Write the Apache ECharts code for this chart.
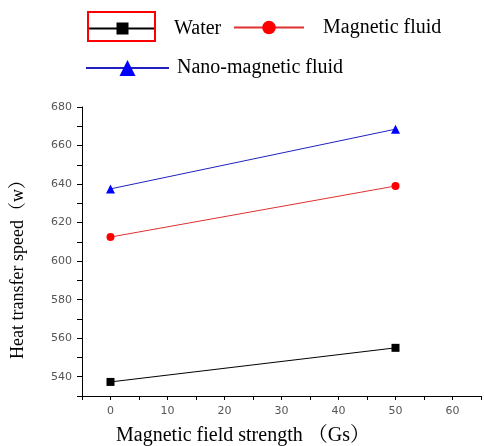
<!DOCTYPE html>
<html><head><meta charset="utf-8">
<script src="https://cdn.jsdelivr.net/npm/echarts@6/dist/echarts.min.js"></script>
<style>html,body{margin:0;padding:0;background:#fff}#c{width:484px;height:446px}</style>
</head><body><div id="c"></div>
<script>
const xValues = [0, 50];
const water = [537.3, 555.0];
const magneticFluid = [612.5, 639.0];
const nanoMagneticFluid = [637.5, 668.5];
const seriesNames = ['Water', 'Magnetic fluid', 'Nano-magnetic fluid'];
const xTitle = 'Magnetic field strength （Gs）';
const yTitle = 'Heat transfer speed（w）';

const serif = '"Liberation Serif","Times New Roman","Noto Serif CJK SC","Noto Sans CJK SC",serif';
const chart = echarts.init(document.getElementById('c'));
const pairs = arr => xValues.map((x, i) => [x, arr[i]]);
const legendText = {fontFamily: serif, fontSize: 20, color: '#000'};

chart.setOption({
  animation: false,
  grid: {left: 82, right: 1, top: 107, bottom: 50},
  legend: [
    {data: [seriesNames[0]], left: 88, top: 18.5, padding: 0, itemWidth: 67, itemHeight: 15,
     lineStyle: {width: 2}, textStyle: Object.assign({padding: [0, 0, 0, 13]}, legendText), selectedMode: false},
    {data: [seriesNames[1]], left: 233, top: 17.5, padding: 0, itemWidth: 70, itemHeight: 17,
     lineStyle: {width: 2}, textStyle: Object.assign({padding: [0, 0, 0, 14]}, legendText), selectedMode: false},
    {data: [seriesNames[2]], left: 85, top: 58, padding: 0, itemWidth: 83, itemHeight: 20,
     lineStyle: {width: 2}, textStyle: Object.assign({padding: [0, 0, 0, 3]}, legendText), selectedMode: false}
  ],
  graphic: [
    {type: 'rect', shape: {x: 88, y: 12, width: 67, height: 29}, style: {fill: 'none', stroke: '#ff0000', lineWidth: 2}, z: 100},
    {type: 'text', x: 18, y: 265, rotation: Math.PI / 2,
     style: {text: yTitle, font: '18px ' + serif, fill: '#000', align: 'center', verticalAlign: 'middle'}},
    {type: 'text', x: 243, y: 436,
     style: {text: xTitle, font: '20px ' + serif, fill: '#000', align: 'center', verticalAlign: 'middle'}}
  ],
  xAxis: {
    type: 'value', min: -5, max: 65, interval: 5,
    splitLine: {show: false},
    axisLine: {onZero: false, lineStyle: {color: '#000', width: 1}},
    axisTick: {length: 4, lineStyle: {color: '#000'}},
    axisLabel: {margin: 10, color: '#555', fontSize: 11, fontFamily: 'DejaVu Sans',
      formatter: v => (v % 10 === 0 && v >= 0 && v <= 60) ? String(v) : ''}
  },
  yAxis: {
    type: 'value', min: 530, max: 680, interval: 10,
    splitLine: {show: false},
    axisLine: {show: true, onZero: false, lineStyle: {color: '#000', width: 1}},
    axisTick: {show: true, length: 5, lineStyle: {color: '#000'}},
    axisLabel: {margin: 10, color: '#555', fontSize: 11, fontFamily: 'DejaVu Sans',
      formatter: v => (v % 20 === 0) ? String(v) : ''}
  },
  series: [
    {name: seriesNames[0], type: 'line', data: pairs(water), symbol: 'rect', symbolSize: 8,
     itemStyle: {color: '#000'}, lineStyle: {color: '#000', width: 1}},
    {name: seriesNames[1], type: 'line', data: pairs(magneticFluid), symbol: 'circle', symbolSize: 8,
     itemStyle: {color: '#ff0000'}, lineStyle: {color: '#e03030', width: 1}},
    {name: seriesNames[2], type: 'line', data: pairs(nanoMagneticFluid), symbol: 'triangle', symbolSize: 9,
     itemStyle: {color: '#0000ff'}, lineStyle: {color: '#2020c0', width: 1}}
  ]
});
</script></body></html>
